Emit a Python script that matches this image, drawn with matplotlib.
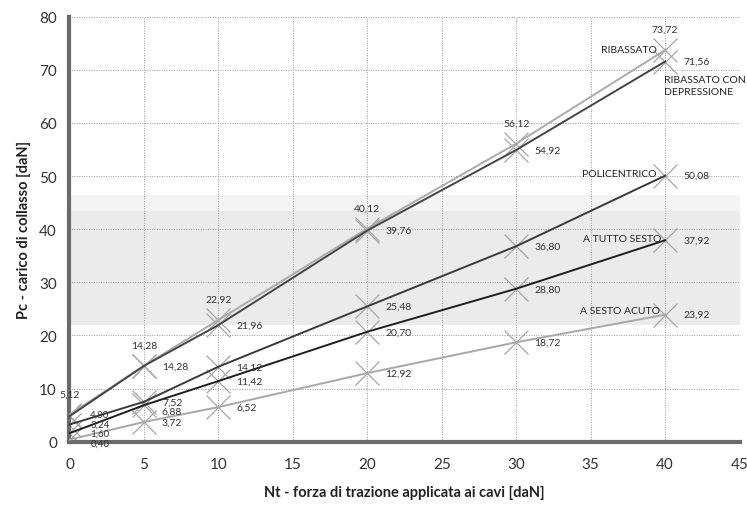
import matplotlib.pyplot as plt

plt.rcParams['font.family'] = ['Lato', 'DejaVu Sans']

nt = [0, 5, 10, 20, 30, 40]
ribassato = [5.12, 14.28, 22.92, 40.12, 56.12, 73.72]
ribassato_dep = [4.80, 14.28, 21.96, 39.76, 54.92, 71.56]
policentrico = [3.24, 7.52, 14.12, 25.48, 36.80, 50.08]
tutto_sesto = [1.60, 6.88, 11.42, 20.70, 28.80, 37.92]
sesto_acuto = [0.40, 3.72, 6.52, 12.92, 18.72, 23.92]

names = ["RIBASSATO", "RIBASSATO CON\nDEPRESSIONE", "POLICENTRICO",
         "A TUTTO SESTO", "A SESTO ACUTO"]
series = [ribassato, ribassato_dep, policentrico, tutto_sesto, sesto_acuto]
colors = ["#ababab", "#444444", "#3a3a3a", "#1e1e1e", "#a8a8a8"]

x_ticks = list(range(0, 46, 5))
y_ticks = list(range(0, 81, 10))

fig, ax = plt.subplots(figsize=(7.47, 5.06), dpi=100)
fig.subplots_adjust(left=0.093, right=0.99, top=0.965, bottom=0.125)

# grey band
ax.axhspan(22, 46.5, color="#ebebeb", zorder=0, lw=0)
ax.axhspan(43.5, 46.5, color="#f4f4f4", zorder=0, lw=0)

for vals, col in zip(series, colors):
    ax.plot(nt, vals, color=col, lw=1.4, zorder=3)
    ax.plot(nt, vals, ls="none", marker="x", ms=17, mew=0.9,
            color="#a6a6a6", zorder=2)


def fmt(v):
    return f"{v:.2f}".replace(".", ",")


label_fs = 7.5
txt = dict(fontsize=label_fs, color="#333333", textcoords="offset points")

# ribassato: values above the points
for x, v in zip(nt, ribassato):
    ax.annotate(fmt(v), (x, v), xytext=(0, 15), ha="center", va="center", **txt)

# the other series: values to the right of the points
# small vertical nudges where labels at x=0 and x=5 crowd together
nudge = {(id(ribassato_dep), 0): 1.5, (id(policentrico), 0): 0.5,
         (id(tutto_sesto), 0): 0.0, (id(sesto_acuto), 0): -2.5,
         (id(tutto_sesto), 1): -4}
for vals in (ribassato_dep, policentrico, tutto_sesto, sesto_acuto):
    for i, (x, v) in enumerate(zip(nt, vals)):
        dx = 15 if i == 0 else 13
        dy = nudge.get((id(vals), i), 0)
        fs = 7 if i == 0 else label_fs
        ax.annotate(fmt(v), (x, v), xytext=(dx, dy), ha="left", va="center",
                    fontsize=fs, color="#333333", textcoords="offset points")

# series names
name_txt = dict(fontsize=label_fs, color="#222222", textcoords="offset points")
ax.annotate(names[0], (40, ribassato[-1]), xytext=(-6, -3), ha="right", va="bottom", **name_txt)
ax.annotate(names[1], (40, ribassato_dep[-1]), xytext=(-1, -10), ha="left", va="top",
            linespacing=1.4, **name_txt)
ax.annotate(names[2], (40, policentrico[-1]), xytext=(-6, -2), ha="right", va="bottom", **name_txt)
ax.annotate(names[3], (40, tutto_sesto[-1]), xytext=(-3, -2), ha="right", va="bottom", **name_txt)
ax.annotate(names[4], (40, sesto_acuto[-1]), xytext=(-4, 0), ha="right", va="bottom", **name_txt)

ax.set_xlim(0, 45)
ax.set_ylim(0, 80)
ax.set_xticks(x_ticks)
ax.set_yticks(y_ticks)
ax.tick_params(length=0, labelsize=11, colors="#333333")
ax.tick_params(axis="x", pad=11)
ax.tick_params(axis="y", pad=9)
ax.grid(True, ls=(0, (1, 1.5)), color="#9a9a9a", lw=0.7)
ax.set_axisbelow(True)

for s in ("top", "right"):
    ax.spines[s].set_visible(False)
for s in ("left", "bottom"):
    ax.spines[s].set_color("#6a6a6a")
    ax.spines[s].set_linewidth(3)

ax.set_xlabel("Nt - forza di trazione applicata ai cavi [daN]", fontsize=10.5,
              fontweight="bold", color="#222222", labelpad=10)
ax.set_ylabel("Pc - carico di collasso [daN]", fontsize=10.5,
              fontweight="bold", color="#222222", labelpad=6)

fig.savefig("out.png", dpi=100)
